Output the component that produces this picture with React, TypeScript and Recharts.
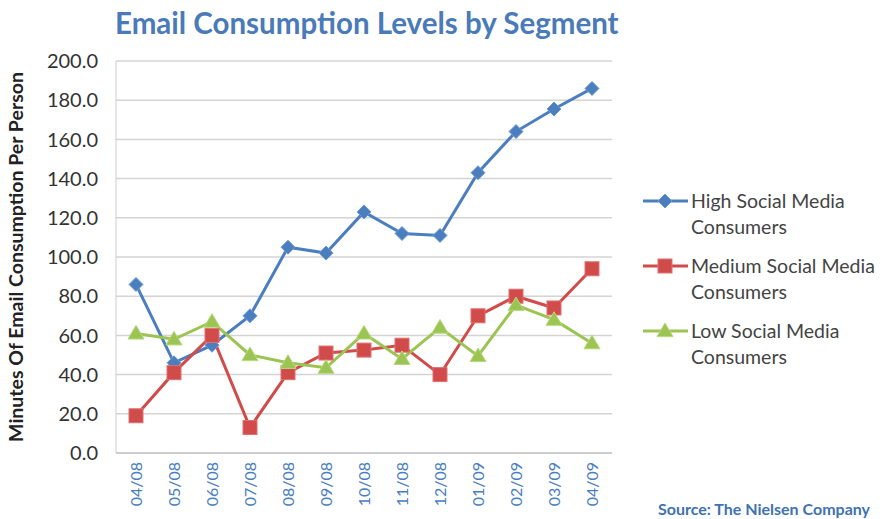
import { CartesianGrid, Line, LineChart, XAxis, YAxis } from "recharts";

const months = ["04/08", "05/08", "06/08", "07/08", "08/08", "09/08", "10/08", "11/08", "12/08", "01/09", "02/09", "03/09", "04/09"];
const high = [86, 46, 55, 70, 105, 102, 123, 112, 111, 143, 164, 175.5, 186];
const medium = [19, 41, 60, 13, 41, 51, 52.5, 55, 40, 70, 80, 74, 94];
const low = [61, 58, 67, 50, 46, 43.5, 61, 48, 64, 49.5, 75.5, 68, 56];
const yTicks = [0, 20, 40, 60, 80, 100, 120, 140, 160, 180, 200];

const BLUE = "#4a7ebf";
const RED = "#d24b4b";
const GREEN = "#9bc453";
const FONT = "Lato, 'Open Sans', sans-serif";

const data = months.map((m, i) => ({ month: m, high: high[i], medium: medium[i], low: low[i] }));

const series = [
  { key: "high", color: BLUE, label: ["High Social Media", "Consumers"], shape: "diamond" },
  { key: "medium", color: RED, label: ["Medium Social Media", "Consumers"], shape: "square" },
  { key: "low", color: GREEN, label: ["Low Social Media", "Consumers"], shape: "triangle" },
];

function Marker({ cx, cy, shape, color }: any) {
  if (cx == null || cy == null) return null;
  if (shape === "diamond") {
    const r = 7;
    return <path d={`M${cx},${cy - r}L${cx + r},${cy}L${cx},${cy + r}L${cx - r},${cy}Z`} fill={color} stroke="#6f9bd4" strokeWidth={1} />;
  }
  if (shape === "square") {
    const r = 7;
    return <rect x={cx - r} y={cy - r} width={r * 2} height={r * 2} fill={color} stroke="#e07070" strokeWidth={1} />;
  }
  const r = 8;
  return <path d={`M${cx},${cy - r}L${cx + r},${cy + r * 0.7}L${cx - r},${cy + r * 0.7}Z`} fill={color} stroke="#b5d87a" strokeWidth={1} />;
}

function MonthTick({ x, y, payload }: any) {
  return (
    <text x={x} y={y} transform={`rotate(-90 ${x} ${y})`} textAnchor="end" dy={6} fill={BLUE} fontSize={16} fontFamily={FONT}>
      {payload.value}
    </text>
  );
}

function LegendBox() {
  return (
    <svg width={244} height={200} style={{ position: "absolute", left: 640, top: 186 }}>
      {series.map((s, i) => {
        const y = 15 + i * 65;
        return (
          <g key={s.key}>
            <line x1={3} x2={48} y1={y} y2={y} stroke={s.color} strokeWidth={3} />
            <Marker cx={25} cy={y} shape={s.shape} color={s.color} />
            <text x={51} y={y + 7} fontSize={19.5} fill="#444" fontFamily={FONT}>{s.label[0]}</text>
            <text x={51} y={y + 33} fontSize={19.5} fill="#444" fontFamily={FONT}>{s.label[1]}</text>
          </g>
        );
      })}
    </svg>
  );
}

export default function App() {
  return (
    <div style={{ position: "absolute", left: 0, top: 0, width: 884, height: 519, background: "#fff", fontFamily: FONT }}>
      <div style={{ position: "absolute", left: 115, top: 5, fontSize: 29.5, fontWeight: 700, color: "#4a7ab8", whiteSpace: "nowrap" }}>
        Email Consumption Levels by Segment
      </div>
      <LineChart width={884} height={519} data={data} margin={{ top: 61, right: 272, bottom: 0, left: 0 }}>
        <CartesianGrid vertical={false} stroke="#d4d4d4" strokeWidth={1.5} />
        <XAxis
          dataKey="month"
          height={66}
          padding={{ left: 20, right: 20 }}
          tick={<MonthTick />}
          tickLine={false}
          axisLine={{ stroke: "#bbb" }}
          interval={0}
          tickSize={0}
          tickMargin={9}
        />
        <YAxis
          width={116}
          domain={[0, 200]}
          ticks={yTicks}
          interval={0}
          tickFormatter={(v: number) => v.toFixed(1)}
          tick={{ fontSize: 20, fill: "#333", fontFamily: FONT }}
          tickLine={false}
          tickSize={0}
          tickMargin={18}
          axisLine={{ stroke: "#ccc" }}
          label={{
            value: "Minutes Of Email Consumption Per Person",
            angle: -90,
            position: "insideLeft",
            offset: 16,
            style: { fontSize: 19.5, fontWeight: 700, fill: "#222", fontFamily: FONT, textAnchor: "middle" },
          }}
        />
        {series.map((s) => (
          <Line
            key={s.key}
            dataKey={s.key}
            stroke={s.color}
            strokeWidth={3}
            isAnimationActive={false}
            dot={(p: any) => <Marker key={`${s.key}-${p.index}`} cx={p.cx} cy={p.cy} shape={s.shape} color={s.color} />}
            activeDot={false}
          />
        ))}
      </LineChart>
      <LegendBox />
      <div style={{ position: "absolute", left: 658, top: 499, fontSize: 16, fontWeight: 700, color: "#3f72b0", whiteSpace: "nowrap" }}>
        Source: The Nielsen Company
      </div>
    </div>
  );
}
